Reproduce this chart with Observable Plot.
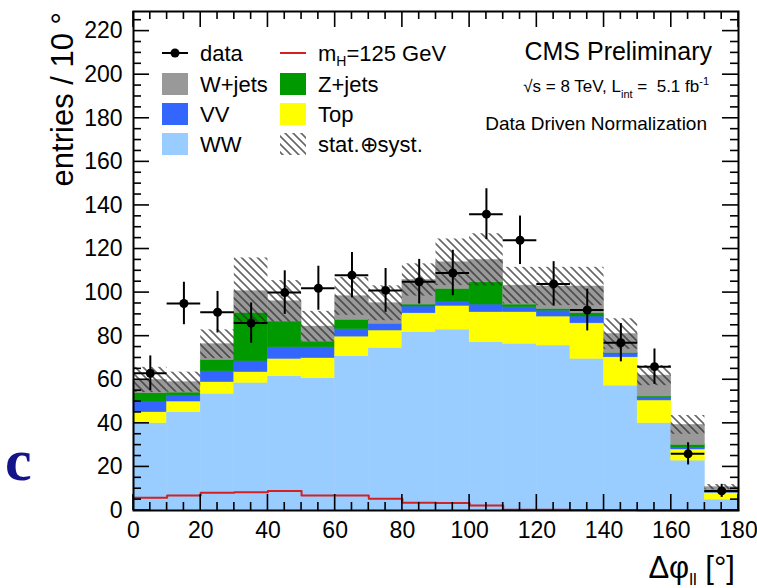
<!DOCTYPE html>
<html>
<head>
<meta charset="utf-8">
<script src="https://cdn.jsdelivr.net/npm/d3@7"></script>
<script src="https://cdn.jsdelivr.net/npm/@observablehq/plot@0.6"></script>
<style>
html, body { margin: 0; padding: 0; background: #fff; }
#chart { width: 757px; height: 588px; overflow: hidden; }
</style>
</head>
<body>
<div id="chart"></div>
<script>
// ---- data ----
const binLow = [0, 10, 20, 30, 40, 50, 60, 70, 80, 90, 100, 110, 120, 130, 140, 150, 160, 170];
const binWidth = 10;
const wwValues    = [40.1, 45.1, 53.5, 58.6, 61.6, 60.7, 70.8, 74.6, 81.8, 83.0, 77.2, 76.5, 75.7, 69.6, 57.3, 40.1, 22.9, 5.0];
const topValues   = [5.0, 4.9, 5.4, 4.9, 8.0, 9.2, 9.0, 8.0, 8.7, 10.9, 13.8, 14.5, 13.3, 16.3, 13.0, 10.4, 5.1, 3.1];
const vvValues    = [4.6, 2.8, 5.0, 5.0, 5.3, 5.0, 3.4, 2.9, 3.1, 2.0, 3.5, 2.3, 2.7, 3.1, 1.6, 1.2, 0.7, 0.6];
const zjetsValues = [4.1, 1.3, 5.2, 22.2, 11.8, 2.6, 4.3, 0.1, 0.9, 5.8, 10.2, 1.2, 0.8, 1.5, 0.4, 0.6, 1.4, 0.5];
const wjetsValues = [6.1, 4.8, 7.2, 9.9, 9.3, 6.9, 10.8, 9.5, 11.3, 12.2, 10.3, 8.7, 10.3, 12.3, 8.7, 9.6, 9.2, 1.5];
const bkgError    = [5.8, 4.6, 6.6, 15.3, 9.5, 7.0, 8.7, 8.0, 7.4, 10.7, 12.0, 8.4, 8.8, 8.8, 7.0, 4.6, 4.3, 1.2];
const dataValues  = [63, 95, 91, 86, 100, 102, 108, 101, 105, 109, 136, 124, 104, 92, 77, 66, 26, 9];
const higgsValues = [5.8, 6.9, 8.1, 8.4, 8.9, 6.9, 6.9, 5.4, 3.6, 3.4, 2.3, 0.4, 0.3, 0.2, 0.2, 0.1, 0.1, 0.1];
const xTickValues = [0, 20, 40, 60, 80, 100, 120, 140, 160, 180];
const yTickValues = [0, 20, 40, 60, 80, 100, 120, 140, 160, 180, 200, 220];

// stacking order (bottom to top) and colours
const processNames  = ["WW", "Top", "VV", "Z+jets", "W+jets"];
const processSeries = [wwValues, topValues, vvValues, zjetsValues, wjetsValues];
const processColors = {"WW": "#99ccff", "Top": "#ffff00", "VV": "#3366ff", "Z+jets": "#009900", "W+jets": "#999999"};
const BAND_MARKER = "#fffffe";

// ---- derived tables ----
const stackRows = [];
const bandRows = [];
binLow.forEach((lo, i) => {
  let cum = 0;
  processNames.forEach((name, k) => {
    const v = processSeries[k][i];
    stackRows.push({x1: lo, x2: lo + binWidth, y1: cum, y2: cum + v, color: processColors[name]});
    cum += v;
  });
  bandRows.push({x1: lo, x2: lo + binWidth, y1: cum - bkgError[i], y2: cum + bkgError[i]});
});
const dataRows = binLow.map((lo, i) => ({
  lo, hi: lo + binWidth, center: lo + binWidth / 2, value: dataValues[i], err: Math.sqrt(dataValues[i])
}));
const higgsPoints = binLow.map((lo, i) => ({x: lo, y: higgsValues[i]}));
higgsPoints.push({x: binLow[binLow.length - 1] + binWidth, y: higgsValues[higgsValues.length - 1]});

// ---- custom marks ----
const FONT = "'Liberation Sans', Arial, Helvetica, sans-serif";

function frameTicks(index, scales, values, dims) {
  const {x, y} = scales;
  const L = dims.marginLeft, R = dims.width - dims.marginRight;
  const T = dims.marginTop, B = dims.height - dims.marginBottom;
  const g = d3.create("svg:g").attr("stroke", "#000").attr("stroke-width", 1.6);
  for (let t = 0; t <= 180; t += 5) {
    const len = xTickValues.includes(t) ? 16 : 8;
    const px = x(t);
    g.append("line").attr("x1", px).attr("x2", px).attr("y1", B).attr("y2", B - len);
    g.append("line").attr("x1", px).attr("x2", px).attr("y1", T).attr("y2", T + len);
  }
  for (let t = 0; t <= 225; t += 5) {
    const len = yTickValues.includes(t) ? 16 : 8;
    const py = y(t);
    g.append("line").attr("x1", L).attr("x2", L + len).attr("y1", py).attr("y2", py);
    g.append("line").attr("x1", R).attr("x2", R - len).attr("y1", py).attr("y2", py);
  }
  return g.node();
}

function annotations() {
  const g = d3.create("svg:g").attr("font-family", FONT).attr("fill", "#000").attr("text-anchor", "start");
  // axis titles
  g.append("text").attr("transform", "translate(73,12) rotate(-90)")
    .attr("text-anchor", "end").attr("font-size", 31).text("entries / 10 °");
  const xt = g.append("text").attr("x", 735).attr("y", 578).attr("text-anchor", "end").attr("font-size", 31);
  xt.append("tspan").text("Δφ");
  xt.append("tspan").attr("font-size", 17).attr("dy", 7).text("ll");
  xt.append("tspan").attr("dy", -7).text(" [°]");

  // CMS labels
  g.append("text").attr("x", 712).attr("y", 60).attr("text-anchor", "end").attr("font-size", 25).text("CMS Preliminary");
  const lum = g.append("text").attr("x", 709).attr("y", 92).attr("text-anchor", "end").attr("font-size", 17);
  lum.append("tspan").text("√s = 8 TeV, L");
  lum.append("tspan").attr("font-size", 11).attr("dy", 6).text("int");
  lum.append("tspan").attr("dy", -6).text(" =  5.1 fb");
  lum.append("tspan").attr("font-size", 11).attr("dy", -7).text("-1");
  g.append("text").attr("x", 707).attr("y", 130).attr("text-anchor", "end").attr("font-size", 19).text("Data Driven Normalization");

  // legend
  const rows = [53, 84, 114, 144];
  const c1 = 162, c2 = 280, bw = 26, bh = 22;
  const fs = 22;
  // data
  g.append("line").attr("x1", c1).attr("x2", c1 + bw).attr("y1", rows[0]).attr("y2", rows[0]).attr("stroke", "#000").attr("stroke-width", 2);
  g.append("circle").attr("cx", c1 + bw / 2).attr("cy", rows[0]).attr("r", 4.5).attr("fill", "#000");
  g.append("text").attr("x", 200).attr("y", rows[0] + 8).attr("font-size", fs).text("data");
  // boxes col 1
  [["W+jets", 1], ["VV", 2], ["WW", 3]].forEach(([name, r]) => {
    g.append("rect").attr("x", c1).attr("y", rows[r] - bh / 2).attr("width", bw).attr("height", bh).attr("fill", processColors[name]);
    g.append("text").attr("x", 200).attr("y", rows[r] + 8).attr("font-size", fs).text(name);
  });
  // col 2
  g.append("line").attr("x1", c2).attr("x2", c2 + bw).attr("y1", rows[0]).attr("y2", rows[0]).attr("stroke", "#d42020").attr("stroke-width", 2);
  const mh = g.append("text").attr("x", 318).attr("y", rows[0] + 8).attr("font-size", fs);
  mh.append("tspan").text("m");
  mh.append("tspan").attr("font-size", 14).attr("dy", 5).text("H");
  mh.append("tspan").attr("dy", -5).text("=125 GeV");
  [["Z+jets", 1], ["Top", 2]].forEach(([name, r]) => {
    g.append("rect").attr("x", c2).attr("y", rows[r] - bh / 2).attr("width", bw).attr("height", bh).attr("fill", processColors[name]);
    g.append("text").attr("x", 318).attr("y", rows[r] + 8).attr("font-size", fs).text(name);
  });
  g.append("rect").attr("x", c2).attr("y", rows[3] - bh / 2).attr("width", bw).attr("height", bh).attr("fill", "url(#hatch)");
  g.append("text").attr("x", 318).attr("y", rows[3] + 8).attr("font-size", fs).text("stat.⊕syst.");

  // stray slide letter at left edge
  g.append("text").attr("x", 5).attr("y", 480).attr("font-family", "'Liberation Serif', 'DejaVu Serif', serif")
    .attr("font-weight", "bold").attr("font-size", 60).attr("fill", "#14148a").text("c");
  return g.node();
}

const chart = Plot.plot({
  width: 757,
  height: 588,
  marginLeft: 133,
  marginRight: 19,
  marginTop: 11,
  marginBottom: 78,
  style: {fontFamily: FONT, fontSize: "23px", background: "#fff", color: "#000", overflow: "visible"},
  x: {domain: [0, 180], ticks: xTickValues, tickSize: 0, tickPadding: 11, label: null},
  y: {domain: [0, 229], ticks: yTickValues, tickSize: 0, tickPadding: 11, label: null},
  color: {type: "identity"},
  marks: [
    Plot.rect(stackRows, {x1: "x1", x2: "x2", y1: "y1", y2: "y2", fill: "color", stroke: "color", strokeWidth: 0.5}),
    Plot.rect(bandRows, {x1: "x1", x2: "x2", y1: "y1", y2: "y2", fill: BAND_MARKER}),
    Plot.line(higgsPoints, {x: "x", y: "y", curve: "step-after", stroke: "#d42020", strokeWidth: 2}),
    Plot.ruleX(dataRows, {x: "center", y1: d => d.value - d.err, y2: d => d.value + d.err, stroke: "#000", strokeWidth: 2}),
    Plot.ruleY(dataRows, {y: "value", x1: "lo", x2: "hi", stroke: "#000", strokeWidth: 2}),
    Plot.dot(dataRows, {x: "center", y: "value", r: 4.5, fill: "#000", stroke: "none"}),
    Plot.frame({stroke: "#000", strokeWidth: 2}),
    frameTicks,
    annotations
  ]
});

// hatch pattern for the stat (+) syst band
const defs = `<defs><pattern id="hatch" patternUnits="userSpaceOnUse" width="8" height="8">
<path d="M-2,-2 L10,10 M-2,6 L2,10 M6,-2 L10,2" stroke="#333" stroke-width="1.6" stroke-opacity="0.75"/></pattern></defs>`;
chart.insertAdjacentHTML("afterbegin", defs);
chart.querySelectorAll(`[fill="${BAND_MARKER}"]`).forEach(el => el.setAttribute("fill", "url(#hatch)"));
document.getElementById("chart").appendChild(chart);
</script>
</body>
</html>
